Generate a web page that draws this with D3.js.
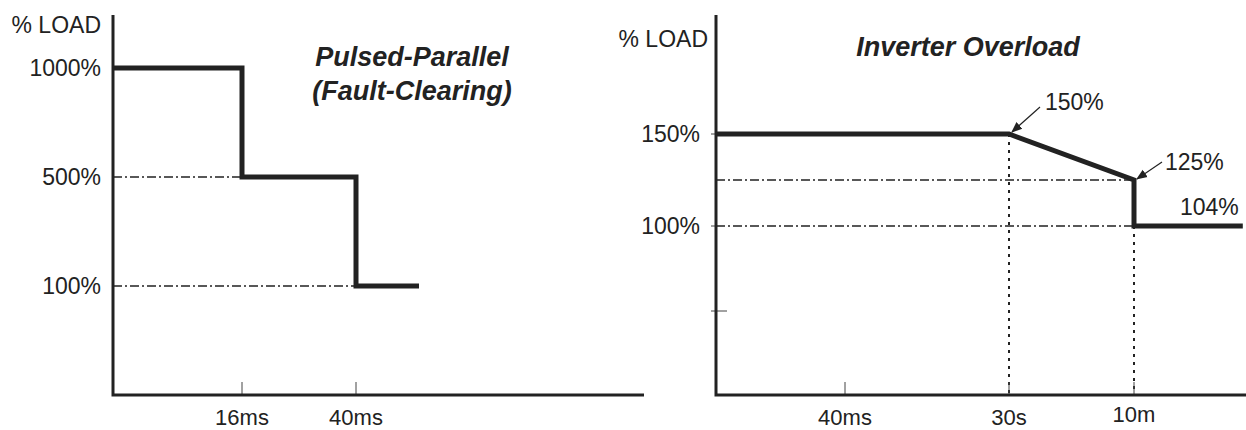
<!DOCTYPE html>
<html>
<head>
<meta charset="utf-8">
<script src="https://cdn.jsdelivr.net/npm/d3@7"></script>
<style>
  body { margin: 0; background: #fff; }
  text { font-family: "Liberation Sans", Arial, sans-serif; fill: #222; }
</style>
</head>
<body>
<script>
// Chart size
var width = 1246;
var height = 430;

// ---- data: pulsed-parallel (left) ----
var pulseLevels = [0, 100, 500, 1000];            // % load steps on the y axis
var pulseLevelLabels = ["", "100%", "500%", "1000%"];
var pulseTimes = [0, 16, 40, 66, 400];            // ms, axis breaks
var pulseTickTimes = [16, 40];
var pulseTickLabels = ["16ms", "40ms"];
var pulseLine = [[0, 1000], [16, 1000], [16, 500], [40, 500], [40, 100], [66, 100]];
var pulseGuides = [[16, 500], [40, 100]];         // dash-dot guides back to the axis

// ---- data: inverter overload (right) ----
var invTicks = [150, 100, 50];
var invTickLabels = ["150%", "100%", ""];
var invTimes = [0, 0.04, 30, 600, 1300];          // seconds, axis breaks
var invTickTimes = [0.04, 30, 600];
var invTickLabelsX = ["40ms", "30s", "10m"];
var invLine = [[0, 150], [30, 150], [600, 125], [600, 100], [1280, 100]];
var invGuidesH = [[600, 125], [600, 100]];
var invGuidesV = [[30, 150], [600, 100]];
var invNotes = ["150%", "125%", "104%"];

var ink = "#222";

var svg = d3.select("body")
    .append("svg")
    .attr("width", width)
    .attr("height", height);

svg.append("defs").append("marker")
    .attr("id", "arrow")
    .attr("viewBox", "0 0 10 10")
    .attr("refX", 9).attr("refY", 5)
    .attr("markerWidth", 11).attr("markerHeight", 11)
    .attr("markerUnits", "userSpaceOnUse")
    .attr("orient", "auto")
    .append("path")
    .attr("d", "M0,1 L10,5 L0,9 Z")
    .attr("fill", ink);

var axisTop = 15, axisBottom = 395;

// ================= LEFT PANEL =================
var xL = d3.scaleLinear()
    .domain(pulseTimes)
    .range([113, 242, 356, 419, 644]);

var yL = d3.scalePoint()
    .domain(pulseLevels)
    .range([axisBottom, 68]);

var gL = svg.append("g");

// dash-dot guides
gL.selectAll(".guide")
    .data(pulseGuides)
    .enter().append("line")
    .attr("x1", xL(0)).attr("x2", d => xL(d[0]))
    .attr("y1", d => yL(d[1])).attr("y2", d => yL(d[1]))
    .attr("stroke", ink).attr("stroke-width", 1.3)
    .attr("stroke-dasharray", "9,3,2,3");

// x ticks
gL.selectAll(".xt")
    .data(pulseTickTimes)
    .enter().append("line")
    .attr("x1", d => xL(d)).attr("x2", d => xL(d))
    .attr("y1", axisBottom - 13).attr("y2", axisBottom)
    .attr("stroke", "#444").attr("stroke-width", 1);

gL.selectAll(".xl")
    .data(pulseTickTimes)
    .enter().append("text")
    .attr("x", d => xL(d))
    .attr("y", 425)
    .attr("text-anchor", "middle")
    .style("font-size", "22px")
    .text((d, i) => pulseTickLabels[i]);

// y labels
gL.selectAll(".yl")
    .data(pulseLevels)
    .enter().append("text")
    .attr("x", 101)
    .attr("y", d => yL(d))
    .attr("dy", "0.36em")
    .attr("text-anchor", "end")
    .style("font-size", "23px")
    .text((d, i) => pulseLevelLabels[i]);

gL.append("text")
    .attr("x", 101).attr("y", 33)
    .attr("text-anchor", "end")
    .style("font-size", "23px")
    .text("% LOAD");

// step line
gL.append("path")
    .attr("d", d3.line().x(d => xL(d[0])).y(d => yL(d[1]))(pulseLine))
    .attr("fill", "none")
    .attr("stroke", ink)
    .attr("stroke-width", 5);

// axes
gL.append("path")
    .attr("d", d3.line()([[xL(0), axisTop], [xL(0), axisBottom], [xL(400), axisBottom]]))
    .attr("fill", "none").attr("stroke", ink).attr("stroke-width", 3);

gL.append("text")
    .attr("x", 412).attr("y", 66)
    .attr("text-anchor", "middle")
    .style("font-size", "27px").style("font-weight", "bold").style("font-style", "italic")
    .text("Pulsed-Parallel");
gL.append("text")
    .attr("x", 412).attr("y", 100)
    .attr("text-anchor", "middle")
    .style("font-size", "27px").style("font-weight", "bold").style("font-style", "italic")
    .text("(Fault-Clearing)");

// ================= RIGHT PANEL =================
var xR = d3.scaleLinear()
    .domain(invTimes)
    .range([716, 845, 1009, 1134, 1246]);

var yR = d3.scaleLinear()
    .domain([100, 150])
    .range([226, 134]);

var gR = svg.append("g");

gR.selectAll(".guideH")
    .data(invGuidesH)
    .enter().append("line")
    .attr("x1", xR(0)).attr("x2", d => xR(d[0]))
    .attr("y1", d => yR(d[1])).attr("y2", d => yR(d[1]))
    .attr("stroke", ink).attr("stroke-width", 1.3)
    .attr("stroke-dasharray", "9,3,2,3");

gR.selectAll(".guideV")
    .data(invGuidesV)
    .enter().append("line")
    .attr("x1", d => xR(d[0])).attr("x2", d => xR(d[0]))
    .attr("y1", d => yR(d[1])).attr("y2", axisBottom)
    .attr("stroke", ink).attr("stroke-width", 2)
    .attr("stroke-dasharray", "3,5");

// y ticks (cross the axis)
gR.selectAll(".yt")
    .data(invTicks)
    .enter().append("line")
    .attr("x1", 711).attr("x2", d => d === 50 ? 727 : 716)
    .attr("y1", d => d === 50 ? 311 : yR(d)).attr("y2", d => d === 50 ? 311 : yR(d))
    .attr("stroke", "#444").attr("stroke-width", 1);

gR.selectAll(".yl")
    .data(invTicks)
    .enter().append("text")
    .attr("x", 700)
    .attr("y", d => yR(d))
    .attr("dy", "0.36em")
    .attr("text-anchor", "end")
    .style("font-size", "23px")
    .text((d, i) => invTickLabels[i]);

gR.append("text")
    .attr("x", 708).attr("y", 47)
    .attr("text-anchor", "end")
    .style("font-size", "23px")
    .text("% LOAD");

gR.selectAll(".xt")
    .data(invTickTimes)
    .enter().append("line")
    .attr("x1", d => xR(d)).attr("x2", d => xR(d))
    .attr("y1", axisBottom - 13).attr("y2", axisBottom)
    .attr("stroke", "#444").attr("stroke-width", 1);

gR.selectAll(".xl")
    .data(invTickTimes)
    .enter().append("text")
    .attr("x", d => xR(d))
    .attr("y", (d, i) => i === 2 ? 422 : 425)
    .attr("text-anchor", "middle")
    .style("font-size", "22px")
    .text((d, i) => invTickLabelsX[i]);

gR.append("path")
    .attr("d", d3.line().x(d => xR(d[0])).y(d => yR(d[1]))(invLine))
    .attr("fill", "none")
    .attr("stroke", ink)
    .attr("stroke-width", 5);

gR.append("path")
    .attr("d", d3.line()([[xR(0), axisTop], [xR(0), axisBottom], [width, axisBottom]]))
    .attr("fill", "none").attr("stroke", ink).attr("stroke-width", 3);

// annotations
var p150 = [xR(30), yR(150)], p125 = [xR(600), yR(125)];
gR.append("line")
    .attr("x1", p150[0] + 31).attr("y1", p150[1] - 27)
    .attr("x2", p150[0] + 3).attr("y2", p150[1] - 2)
    .attr("stroke", ink).attr("stroke-width", 1.2)
    .attr("marker-end", "url(#arrow)");
gR.append("line")
    .attr("x1", p125[0] + 28).attr("y1", p125[1] - 18)
    .attr("x2", p125[0] + 3).attr("y2", p125[1] - 1)
    .attr("stroke", ink).attr("stroke-width", 1.2)
    .attr("marker-end", "url(#arrow)");

gR.append("text").attr("x", p150[0] + 36).attr("y", p150[1] - 24)
    .style("font-size", "23px").text(invNotes[0]);
gR.append("text").attr("x", p125[0] + 31).attr("y", p125[1] - 10)
    .style("font-size", "23px").text(invNotes[1]);
gR.append("text").attr("x", 1180).attr("y", yR(100) - 11)
    .style("font-size", "23px").text(invNotes[2]);

gR.append("text")
    .attr("x", 968).attr("y", 56)
    .attr("text-anchor", "middle")
    .style("font-size", "27px").style("font-weight", "bold").style("font-style", "italic")
    .text("Inverter Overload");
</script>
</body>
</html>
